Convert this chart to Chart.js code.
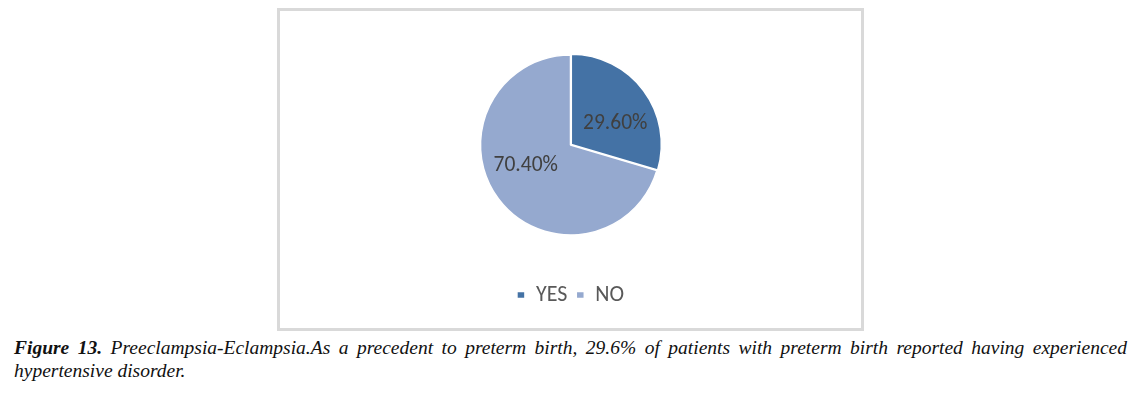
<!DOCTYPE html>
<html>
<head>
<meta charset="utf-8">
<script src="https://cdn.jsdelivr.net/npm/chart.js@4/dist/chart.umd.min.js"></script>
<style>
  html,body{margin:0;padding:0;background:#fff;}
  body{width:1145px;height:399px;position:relative;overflow:hidden;}
  #box{position:absolute;left:277px;top:8px;width:581px;height:317px;border:3px solid #d9d9d9;}
  #box canvas{display:block;}
  #caption{position:absolute;left:14px;top:335.5px;width:1113px;font-family:"Liberation Serif","Times New Roman",serif;
    font-style:italic;font-size:19.5px;line-height:23px;color:#111;text-align:justify;}
  #caption b{font-weight:bold;}
</style>
</head>
<body>
<div id="box"><canvas id="pieChart" width="581" height="317"></canvas></div>
<div id="caption"><b>Figure 13.</b> Preeclampsia-Eclampsia.As a precedent to preterm birth, 29.6% of patients with preterm birth reported having experienced hypertensive disorder.</div>
<script>
/* ---------- data ---------- */
const categories = ['YES', 'NO'];
const shares = [29.6, 70.4];
const sliceColors = ['#4472A5', '#95A9CF'];

/* ---------- value labels inside the slices ---------- */
const sliceLabels = {
  id: 'sliceLabels',
  afterDatasetsDraw(chart){
    const c = chart.ctx;
    const meta = chart.getDatasetMeta(0);
    c.save();
    c.font = '21.5px Carlito, "Liberation Sans", Arial, sans-serif';
    c.fillStyle = '#404040';
    c.textAlign = 'center';
    c.textBaseline = 'middle';
    meta.data.forEach((arc, i) => {
      const p = arc.getProps(['x','y','startAngle','endAngle','outerRadius'], true);
      const mid = (p.startAngle + p.endAngle) / 2 + 0.2;
      const r = p.outerRadius * 0.55;
      c.fillText(shares[i].toFixed(2) + '%', p.x + Math.cos(mid) * r, p.y + Math.sin(mid) * r);
    });
    c.restore();
  }
};

/* ---------- chart ---------- */
const ctx = document.getElementById('pieChart').getContext('2d');
new Chart(ctx, {
  type: 'pie',
  data: {
    labels: categories,
    datasets: [{
      data: shares,
      backgroundColor: sliceColors,
      borderColor: '#ffffff',
      borderWidth: 1.5,
      offset: [4, 0],
      radius: 90
    }]
  },
  options: {
    responsive: false,
    animation: false,
    layout: {padding: {top: 4, bottom: 12}},
    plugins: {
      tooltip: {enabled: false},
      legend: {
        position: 'bottom',
        labels: {
          boxWidth: 8,
          boxHeight: 7,
          padding: 9,
          color: '#595959',
          font: {family: 'Carlito, "Liberation Sans", Arial, sans-serif', size: 22}
        }
      }
    }
  },
  plugins: [sliceLabels]
});
</script>
</body>
</html>
